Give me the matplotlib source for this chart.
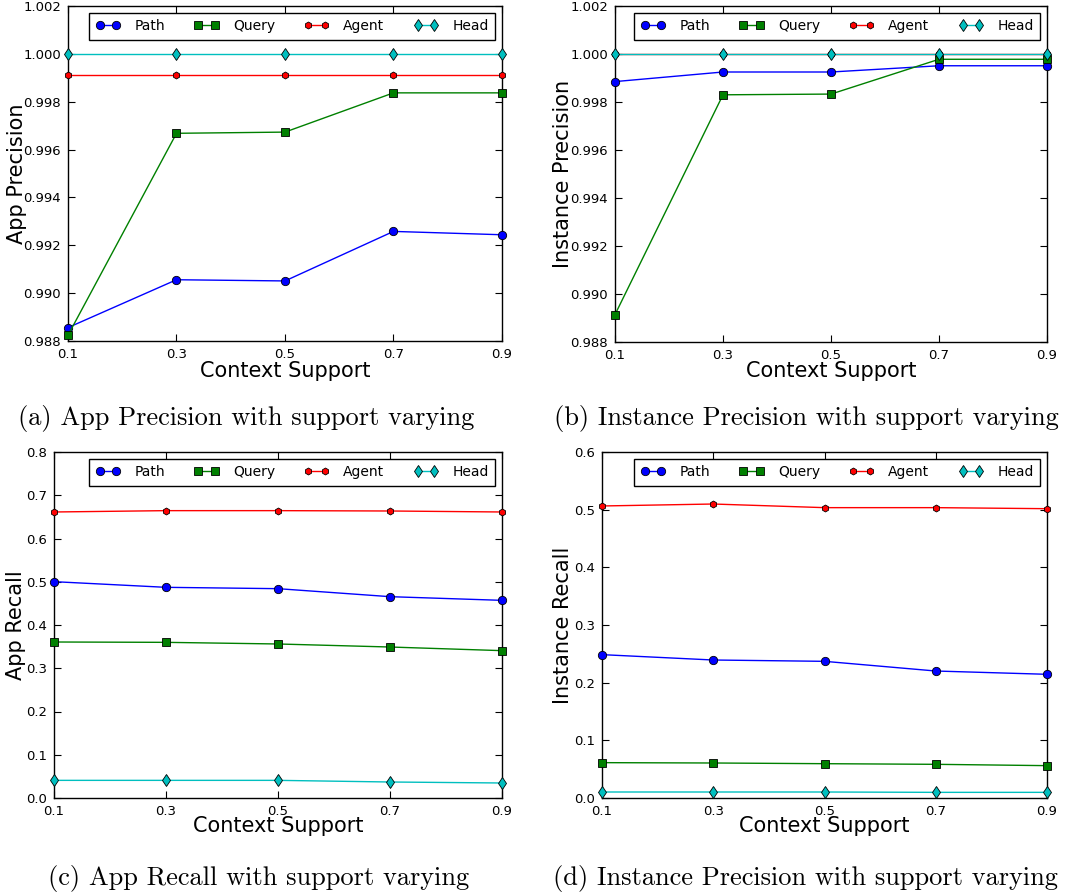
import matplotlib
matplotlib.use("Agg")
import matplotlib.pyplot as plt
from matplotlib.ticker import FormatStrFormatter, FixedLocator

x = [0.1, 0.3, 0.5, 0.7, 0.9]
series_names = ["Path", "Query", "Agent", "Head"]

app_prec_path = [0.98856, 0.99056, 0.99051, 0.99258, 0.99244]
app_prec_query = [0.98824, 0.99668, 0.99673, 0.99837, 0.99837]
app_prec_agent = [0.99910, 0.99910, 0.99910, 0.99910, 0.99910]
app_prec_head = [1.0, 1.0, 1.0, 1.0, 1.0]

inst_prec_path = [0.99885, 0.99925, 0.99925, 0.99951, 0.99951]
inst_prec_query = [0.98914, 0.99830, 0.99833, 0.99978, 0.99978]
inst_prec_agent = [1.0, 1.0, 1.0, 1.0, 1.0]
inst_prec_head = [1.0, 1.0, 1.0, 1.0, 1.0]

app_rec_path = [0.5002, 0.4871, 0.4840, 0.4655, 0.4570]
app_rec_query = [0.3607, 0.3599, 0.3561, 0.3491, 0.3407]
app_rec_agent = [0.6613, 0.6644, 0.6644, 0.6636, 0.6613]
app_rec_head = [0.0408, 0.0408, 0.0408, 0.0370, 0.0347]

inst_rec_path = [0.2486, 0.2393, 0.2370, 0.2202, 0.2145]
inst_rec_query = [0.0613, 0.0607, 0.0595, 0.0584, 0.0561]
inst_rec_agent = [0.5064, 0.5098, 0.5035, 0.5035, 0.5017]
inst_rec_head = [0.0104, 0.0104, 0.0104, 0.0098, 0.0098]

captions = ["(a) App Precision with support varying",
            "(b) Instance Precision with support varying",
            "(c) App Recall with support varying",
            "(d) Instance Precision with support varying"]
ylabels = ["App Precision", "Instance Precision", "App Recall", "Instance Recall"]
xlabel = "Context Support"

plt.rcParams['font.family'] = ['DejaVu Sans']

fig = plt.figure(figsize=(10.65, 8.94), dpi=100)
fig.patch.set_facecolor('white')

W, H = 1065.0, 894.0
def rect(l, r, t, b):
    return [l / W, 1 - b / H, (r - l) / W, (b - t) / H]

px = [(68, 502, 6, 341), (615, 1047, 6, 342), (54, 502, 452, 798), (602, 1047, 452, 798)]
rects = [rect(*p) for p in px]

data = [
    (app_prec_path, app_prec_query, app_prec_agent, app_prec_head),
    (inst_prec_path, inst_prec_query, inst_prec_agent, inst_prec_head),
    (app_rec_path, app_rec_query, app_rec_agent, app_rec_head),
    (inst_rec_path, inst_rec_query, inst_rec_agent, inst_rec_head),
]
ylims = [(0.988, 1.002), (0.988, 1.002), (0.0, 0.8), (0.0, 0.6)]
yticks = [[0.988 + 0.002 * i for i in range(8)], [0.988 + 0.002 * i for i in range(8)],
          [0.1 * i for i in range(9)], [0.1 * i for i in range(7)]]
yfmt = ['%.3f', '%.3f', '%.1f', '%.1f']
colors = ['#0000ff', '#008000', '#ff0000', '#00bfbf']
markers = ['o', 's', 'h', 'd']
msizes = [6, 6, 5, 6]
ylabel_x = [17, 563, 16, 563]
xlabel_y = [371, 371, 826, 826]
cap_x = [246, 806, 259, 805]
cap_y = [419, 419, 878, 878]

for i in range(4):
    ax = fig.add_axes(rects[i])
    for j, name in enumerate(series_names):
        ax.plot(x, data[i][j], color=colors[j], marker=markers[j], markersize=msizes[j],
                markeredgecolor='black', markeredgewidth=0.6, linewidth=1.0,
                label=name, clip_on=False, zorder=3 + (j == 3))
    ax.set_xlim(0.1, 0.9)
    ax.set_ylim(*ylims[i])
    ax.xaxis.set_major_locator(FixedLocator(x))
    ax.xaxis.set_major_formatter(FormatStrFormatter('%.1f'))
    ax.yaxis.set_major_locator(FixedLocator(yticks[i]))
    ax.yaxis.set_major_formatter(FormatStrFormatter(yfmt[i]))
    ax.tick_params(direction='in', top=True, right=True, length=5, width=0.8,
                   labelsize=9.5, pad=5)
    for sp in ax.spines.values():
        sp.set_linewidth(1.0)
    ax.set_xlabel(xlabel, fontsize=15)
    ax.set_ylabel(ylabels[i], fontsize=15)
    l, r, t, b = px[i]
    aw, ah = r - l, b - t
    leg = ax.legend(loc='upper right', bbox_to_anchor=(1 - 7.0 / aw, 1 - 7.0 / ah),
                    borderaxespad=0, ncol=4, numpoints=2,
                    fancybox=False, framealpha=1, edgecolor='black', fontsize=10,
                    columnspacing=2.1, handlelength=1.8, handletextpad=1.0,
                    borderpad=0.45)
    leg.get_frame().set_linewidth(1.0)
    fig.text(cap_x[i] / W, 1 - cap_y[i] / H, captions[i], family='cmr10', fontsize=19,
             ha='center', va='center')

for i, ax in enumerate(fig.axes):
    cx = (rects[i][0] + rects[i][2] / 2)
    ax.xaxis.set_label_coords(cx, 1 - xlabel_y[i] / H, transform=fig.transFigure)
    ax.yaxis.set_label_coords(ylabel_x[i] / W, rects[i][1] + rects[i][3] / 2,
                              transform=fig.transFigure)
    ax.xaxis.label.set_va('center')
    ax.yaxis.label.set_va('center')

fig.savefig('out.png', dpi=100, facecolor='white')
